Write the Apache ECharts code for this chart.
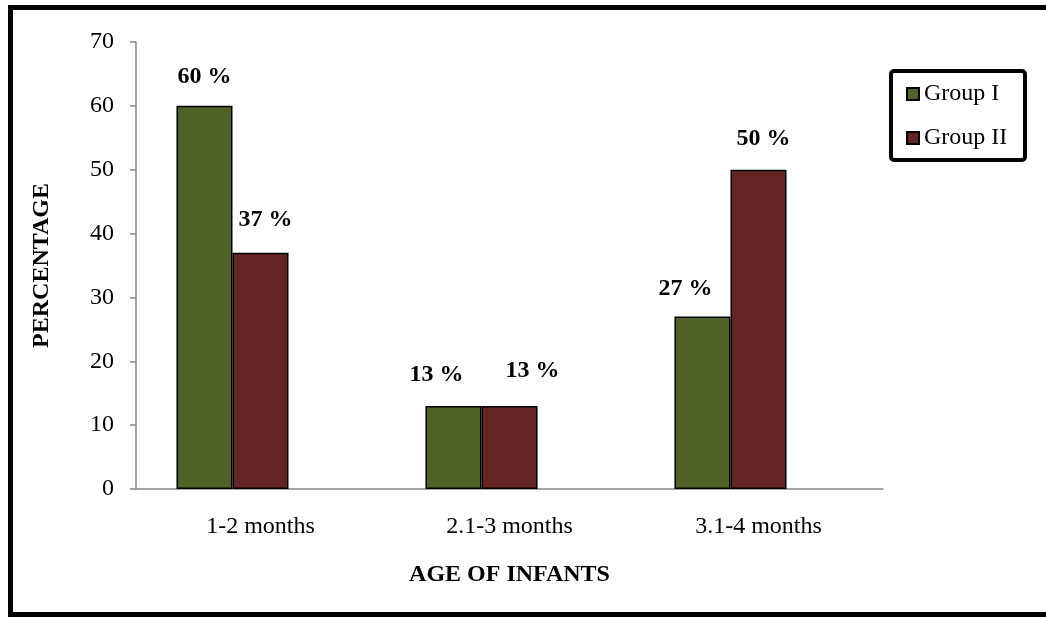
<!DOCTYPE html>
<html>
<head>
<meta charset="utf-8">
<style>
  html, body { margin: 0; padding: 0; background: #fff; }
  #chart { width: 1046px; height: 618px; }
</style>
<script src="https://cdn.jsdelivr.net/npm/echarts@6/dist/echarts.min.js"></script>
</head>
<body>
<div id="chart"></div>
<script>
// Age groups of infants and the share (%) in each study group
const categories = ['1-2 months', '2.1-3 months', '3.1-4 months'];
const groupI = [60, 13, 27];
const groupII = [37, 13, 50];
const seriesNames = ['Group I', 'Group II'];
const yTicks = { min: 0, max: 70, interval: 10 };

// Hand nudges for the value labels (pixels): [dx, dy] per bar
const nudgeI = [[0, 2], [-17, 0], [-17, 3]];
const nudgeII = [[5, -2], [23, -4], [5, 0]];

const FONT = "'Liberation Serif', 'Times New Roman', serif";
const GREEN = '#4F6228';
const RED = '#632523';

function labelled(values, nudges) {
  return values.map((v, i) => ({
    value: v,
    label: { offset: nudges[i] }
  }));
}

const valueLabel = {
  show: true,
  position: 'top',
  distance: 19,
  formatter: p => p.value + ' %',
  fontFamily: FONT,
  fontSize: 24,
  fontWeight: 'bold',
  color: '#000'
};

const chart = echarts.init(document.getElementById('chart'), null, { renderer: 'canvas' });

chart.setOption({
  animation: false,
  backgroundColor: '#fff',
  textStyle: { fontFamily: FONT },
  grid: { left: 136, right: 163, top: 42, bottom: 129, containLabel: false },
  legend: {
    data: seriesNames,
    orient: 'vertical',
    left: 906,
    top: 82,
    padding: 0,
    itemWidth: 12,
    itemHeight: 12,
    itemGap: 20,
    icon: 'rect',
    textStyle: { fontFamily: FONT, fontSize: 24, color: '#000', lineHeight: 24 }
  },
  xAxis: {
    type: 'category',
    data: categories,
    axisLine: { lineStyle: { color: '#868686', width: 1.5 } },
    axisTick: { show: false },
    axisLabel: { fontFamily: FONT, fontSize: 24, color: '#000', margin: 26 },
    name: 'AGE OF INFANTS',
    nameLocation: 'middle',
    nameGap: 74,
    nameTextStyle: { fontFamily: FONT, fontSize: 24, fontWeight: 'bold', color: '#000' }
  },
  yAxis: {
    type: 'value',
    min: yTicks.min,
    max: yTicks.max,
    interval: yTicks.interval,
    axisLine: { show: true, lineStyle: { color: '#868686', width: 1.5 } },
    axisTick: { show: true, inside: false, length: 6, lineStyle: { color: '#868686', width: 1.5 } },
    splitLine: { show: false },
    axisLabel: { fontFamily: FONT, fontSize: 24, color: '#000', margin: 22 },
    name: 'PERCENTAGE',
    nameLocation: 'middle',
    nameGap: 82,
    nameTextStyle: { fontFamily: FONT, fontSize: 24, fontWeight: 'bold', color: '#000' }
  },
  series: [
    {
      name: seriesNames[0],
      type: 'bar',
      data: labelled(groupI, nudgeI),
      barGap: '0%',
      barCategoryGap: '32.5%',
      itemStyle: { color: GREEN, borderColor: '#000', borderWidth: 1.5 },
      label: valueLabel
    },
    {
      name: seriesNames[1],
      type: 'bar',
      data: labelled(groupII, nudgeII),
      barGap: '0%',
      barCategoryGap: '32.5%',
      itemStyle: { color: RED, borderColor: '#000', borderWidth: 1.5 },
      label: valueLabel
    },
    {
      // empty third slot, so each pair of bars sits left of its category centre
      name: 'spacer',
      type: 'bar',
      data: categories.map(() => null),
      barGap: '0%',
      barCategoryGap: '32.5%',
      silent: true
    }
  ],
  graphic: [
    {
      type: 'rect',
      shape: { x: 10.5, y: 7.5, width: 1060, height: 607 },
      style: { fill: 'none', stroke: '#000', lineWidth: 5 },
      silent: true
    },
    {
      type: 'rect',
      shape: { x: 891, y: 71, width: 134, height: 89, r: 3 },
      style: { fill: 'none', stroke: '#000', lineWidth: 4 },
      silent: true
    }
  ]
});
</script>
</body>
</html>
